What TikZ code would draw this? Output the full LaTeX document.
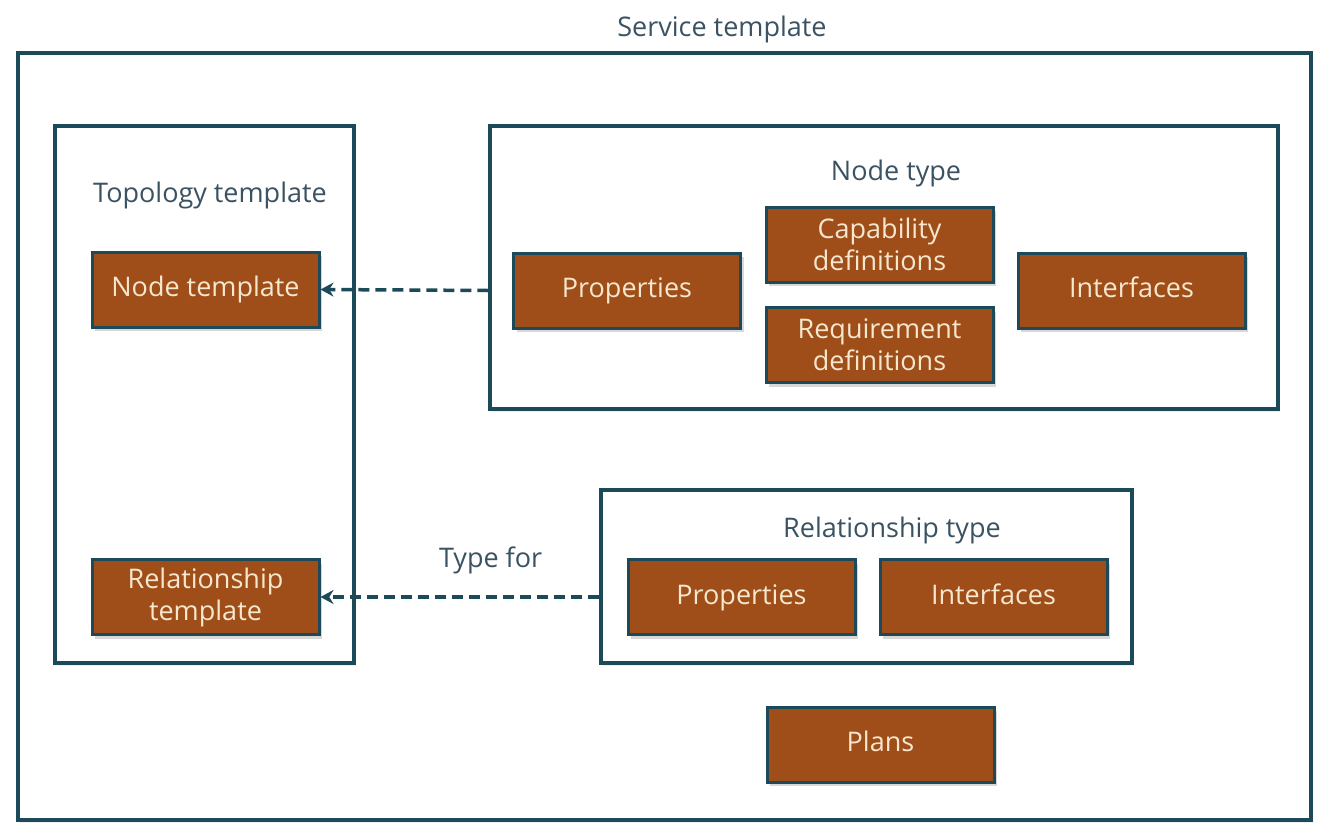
\documentclass[tikz,border=0pt]{standalone}
\usepackage{fontspec}
\setmainfont{Open Sans}
\usetikzlibrary{arrows.meta,shadows}
\definecolor{rust}{HTML}{A04E19}
\definecolor{edge}{HTML}{1D4A59}
\definecolor{cream}{HTML}{F6E7CF}
\definecolor{lbl}{HTML}{3A5262}
\tikzset{
  box/.style={draw=edge, line width=3pt, fill=rust, text=cream, minimum width=227pt, minimum height=75pt,
    align=center, inner sep=0pt, font=\fontsize{27}{32}\selectfont,
    drop shadow={shadow xshift=3pt, shadow yshift=-4pt, opacity=0.25, fill=black!60}},
  oneline/.style={text height=19.5pt, text depth=5.5pt},
  frame/.style={draw=edge, line width=3.2pt, inner sep=0pt,
    drop shadow={shadow xshift=2pt, shadow yshift=-3pt, opacity=0.12, fill=black!50}},
  lab/.style={text=lbl, font=\fontsize{27}{32}\selectfont, inner sep=0pt, text height=19.5pt, text depth=5.5pt},
  conn/.style={draw=edge, line width=3.5pt, dash pattern=on 11pt off 6pt, -{Stealth[length=13pt,width=14pt]}}
}
\begin{document}
\begin{tikzpicture}[x=1pt,y=-1pt]
\useasboundingbox (0,0) rectangle (1325,836);
% outer frame
\node[frame, minimum width=1293pt, minimum height=767pt, fill=white] (st) at (664.5,436.5) {};
\node[lab] (stl) at (722,29) {Service template};
% topology template
\node[frame, minimum width=299pt, minimum height=537pt, fill=white] (tt) at (204.5,394.5) {};
\node[lab] (ttl) at (210,195.5) {Topology template};
\node[box, oneline] (ntpl) at (205.5,289.5) {Node template};
\node[box] (rtpl) at (205.5,597) {Relationship\\template};
% node type
\node[frame, minimum width=788pt, minimum height=283pt, fill=white] (ntype) at (884,267.5) {};
\node[lab] (ntl) at (896,173) {Node type};
\node[box, oneline] (np) at (627,290.5) {Properties};
\node[box] (cap) at (879.5,244.5) {Capability\\definitions};
\node[box] (req) at (879.5,345) {Requirement\\definitions};
\node[box, oneline] (nif) at (1131.5,290.5) {Interfaces};
% relationship type
\node[frame, minimum width=531pt, minimum height=173pt, fill=white] (rtype) at (866.5,576.5) {};
\node[lab] (rtl) at (892,530) {Relationship type};
\node[box, oneline] (rp) at (741.5,597) {Properties};
\node[box, oneline] (rif) at (993.5,597) {Interfaces};
% plans
\node[box, oneline] (plans) at (880.5,744.5) {Plans};
% connectors
\draw[conn] (ntype.west |- np) -- (ntpl.east);
\draw[conn] (rtype.west |- rp) -- node[lab, pos=0.39, above=22pt] (tf) {Type for} (rtpl.east);
\end{tikzpicture}
\end{document}
